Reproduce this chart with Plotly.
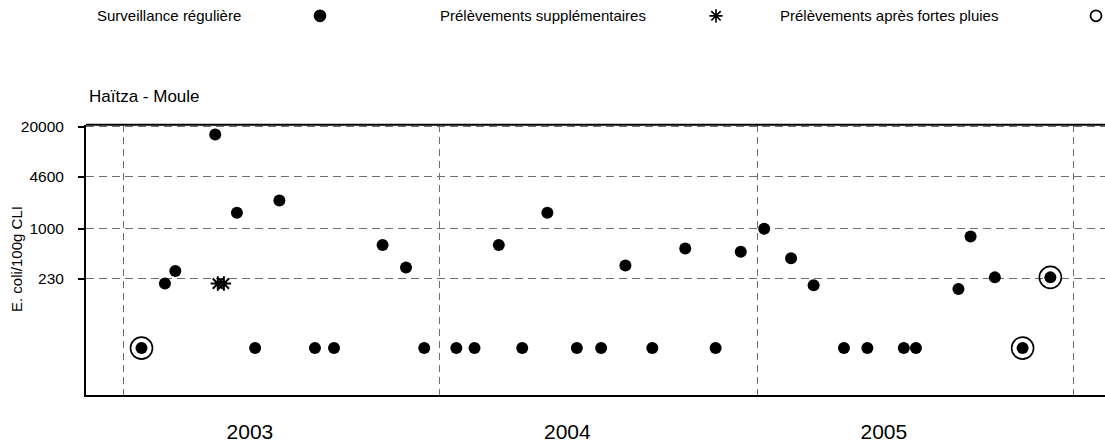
import plotly.graph_objects as go

# surveillance régulière (E. coli / 100 g CLI), 30 = valeur sous le seuil
reg_dates = ["2003-01-22", "2003-02-18", "2003-03-02", "2003-04-17", "2003-05-12",
             "2003-06-02", "2003-06-30", "2003-08-10", "2003-09-01", "2003-10-27",
             "2003-11-23", "2003-12-14",
             "2004-01-20", "2004-02-10", "2004-03-09", "2004-04-05", "2004-05-04",
             "2004-06-07", "2004-07-05", "2004-08-02", "2004-09-02", "2004-10-10",
             "2004-11-14", "2004-12-13",
             "2005-01-09", "2005-02-09", "2005-03-07", "2005-04-11", "2005-05-08",
             "2005-06-19", "2005-07-03", "2005-08-21", "2005-09-04", "2005-10-02",
             "2005-11-03", "2005-12-05"]
reg_values = [30, 200, 290, 16000, 1600,
              30, 2300, 30, 30, 620,
              320, 30,
              30, 30, 620, 30, 1600,
              30, 30, 340, 30, 560,
              30, 510,
              1000, 420, 190, 30, 30,
              30, 30, 170, 800, 240,
              30, 240]

supp_dates = ["2003-04-20", "2003-04-27"]
supp_values = [200, 200]

pluie_dates = ["2003-01-22", "2005-11-03", "2005-12-05"]
pluie_values = [30, 30, 240]

year_grid = ["2003-01-01", "2004-01-01", "2005-01-01", "2006-01-01"]
year_label_pos = ["2003-05-27", "2004-05-27", "2005-05-27"]
year_labels = ["2003", "2004", "2005"]

y_ticks = [230, 1000, 4600, 20000]

legend_labels = ["Surveillance régulière", "Prélèvements supplémentaires",
                 "Prélèvements après fortes pluies"]

W, H = 1105, 447
L, B = 86, 52
PW = W - L
PH = H - B


def px_x(p):
    return (p - L) / PW


def px_y(p):
    return (PH - p) / PH


FONT = "Liberation Sans, Arial, sans-serif"
GRID = "#6e6e6e"

fig = go.Figure()

fig.add_trace(go.Scatter(
    x=reg_dates, y=reg_values, mode="markers",
    marker=dict(symbol="circle", size=12, color="black"),
    showlegend=False))
fig.add_trace(go.Scatter(
    x=supp_dates, y=supp_values, mode="markers",
    marker=dict(symbol="asterisk-open", size=12, color="black",
                line=dict(color="black", width=2)),
    showlegend=False))
fig.add_trace(go.Scatter(
    x=pluie_dates, y=pluie_values, mode="markers",
    marker=dict(symbol="circle-open", size=22, color="black",
                line=dict(color="black", width=1.6)),
    showlegend=False))

# légende en haut : texte puis symbole
leg_symbols = ["circle", "asterisk-open", "circle-open"]
leg_sym_x = [px_x(320), px_x(716), px_x(1096)]
leg_txt_x = [px_x(95), px_x(438), px_x(778)]
fig.add_trace(go.Scatter(
    x=leg_sym_x, y=[0.5, 0.5, 0.5], xaxis="x2", yaxis="y2", mode="markers",
    marker=dict(symbol=leg_symbols, size=11, color="black",
                line=dict(color="black", width=1.7)),
    showlegend=False, hoverinfo="skip"))

for tx, lab in zip(leg_txt_x, legend_labels):
    fig.add_annotation(x=tx, y=px_y(16), xref="paper", yref="paper",
                       xanchor="left", yanchor="middle", showarrow=False,
                       text=lab, font=dict(family=FONT, size=15, color="black"))

fig.add_annotation(x=px_x(87), y=px_y(97), xref="paper", yref="paper",
                   xanchor="left", yanchor="middle", showarrow=False,
                   text="Haïtza - Moule", font=dict(family=FONT, size=17, color="black"))

fig.add_annotation(x=px_x(16), y=px_y(259), xref="paper", yref="paper",
                   xanchor="center", yanchor="middle", showarrow=False, textangle=-90,
                   text="E. coli/100g CLI", font=dict(family=FONT, size=15, color="black"))

# ligne du cadre en haut
fig.add_shape(type="line", xref="x domain", yref="y domain", x0=0, x1=1, y0=1, y1=1,
              line=dict(color="black", width=2))

top_dom = (PH - 124.7) / PH

fig.update_layout(
    width=W, height=H,
    margin=dict(l=L, r=0, t=0, b=B, autoexpand=False),
    paper_bgcolor="white", plot_bgcolor="white",
    font=dict(family=FONT, color="black"),
    xaxis=dict(
        type="date", range=["2002-11-19", "2006-02-06"],
        domain=[0, 1],
        tickmode="array", tickvals=year_label_pos, ticktext=year_labels,
        ticks="", showgrid=False, zeroline=False,
        tickfont=dict(family=FONT, size=21, color="black"),
        ticklabelstandoff=17,
        showline=True, linecolor="black", linewidth=2,
        minor=dict(tickmode="array", tickvals=year_grid, showgrid=True,
                   gridcolor=GRID, griddash="7px,5px", gridwidth=1.2, ticks=""),
    ),
    yaxis=dict(
        type="log", range=[0.878, 4.33], domain=[0, top_dom],
        tickmode="array", tickvals=y_ticks, ticktext=[str(v) for v in y_ticks],
        ticks="outside", ticklen=6, tickwidth=2, tickcolor="black",
        tickfont=dict(family=FONT, size=15.5, color="black"),
        ticklabelstandoff=11,
        showgrid=True, gridcolor=GRID, griddash="8px,5px", gridwidth=1.4,
        showline=True, linecolor="black", linewidth=2, zeroline=False,
    ),
    xaxis2=dict(domain=[0, 1], range=[0, 1], visible=False, anchor="y2"),
    yaxis2=dict(domain=[0.92, 1.0], range=[0, 1], visible=False, anchor="x2"),
)

fig.write_html("out.html", config={"displayModeBar": False},
               post_script="document.body.style.margin='0';")
